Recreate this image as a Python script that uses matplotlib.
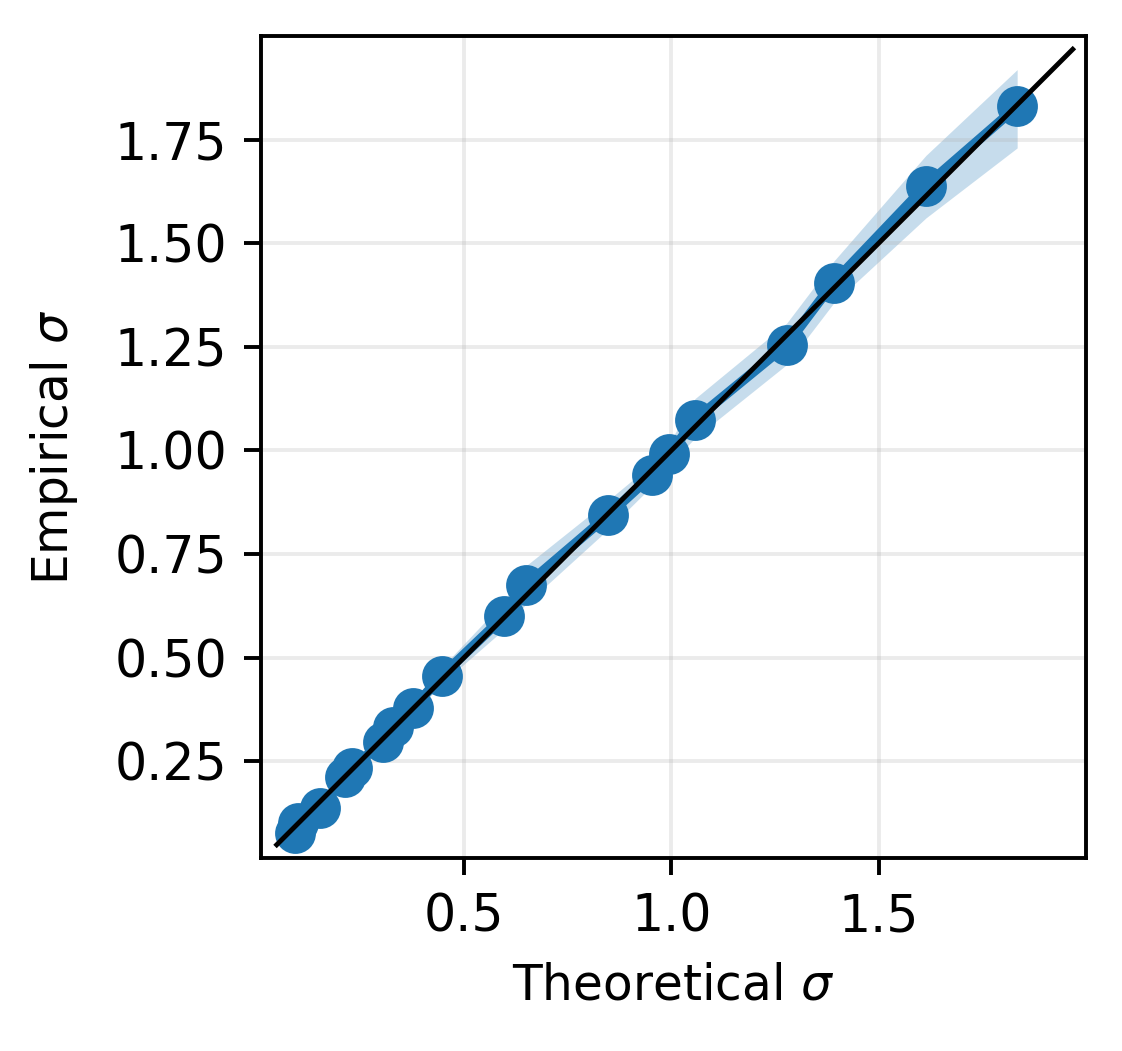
import numpy as np
import matplotlib
matplotlib.use("Agg")
import matplotlib.pyplot as plt

# values
theoretical = [0.092, 0.100, 0.152, 0.213, 0.230, 0.304, 0.329, 0.376, 0.446, 0.596,
               0.650, 0.848, 0.954, 0.995, 1.057, 1.278, 1.391, 1.614, 1.834]
empirical = [0.077, 0.100, 0.136, 0.212, 0.234, 0.296, 0.333, 0.377, 0.456, 0.599,
             0.675, 0.844, 0.941, 0.991, 1.074, 1.255, 1.405, 1.639, 1.830]
empirical_lo = [0.070, 0.092, 0.126, 0.200, 0.222, 0.283, 0.318, 0.360, 0.437, 0.568,
                0.630, 0.810, 0.915, 0.965, 1.030, 1.207, 1.355, 1.561, 1.730]
empirical_hi = [0.086, 0.109, 0.147, 0.225, 0.247, 0.310, 0.348, 0.394, 0.476, 0.635,
                0.722, 0.880, 0.968, 1.018, 1.125, 1.307, 1.456, 1.712, 1.919]
diagonal = [0.048, 1.968]

xticks = [0.5, 1.0, 1.5]
yticks = [0.25, 0.50, 0.75, 1.00, 1.25, 1.50, 1.75]


def main():
    dpi = 350
    fig = plt.figure(figsize=(1122 / dpi, 1051 / dpi), dpi=dpi)
    ax = fig.add_axes([0.2326, 0.1836, 0.7353, 0.7821])

    ax.fill_between(theoretical, empirical_lo, empirical_hi, color="C0", alpha=0.25, lw=0)
    ax.plot(theoretical, empirical, color="C0", lw=2, marker="o", markersize=7.4)
    ax.plot(diagonal, diagonal, color="black", lw=1.0)

    ax.set_xlim(0.01, 2.0)
    ax.set_ylim(0.016, 2.0)
    ax.set_xticks(xticks)
    ax.set_yticks(yticks)
    ax.tick_params(labelsize=10.4)
    ax.grid(True, alpha=0.25)

    ax.set_xlabel(r"Theoretical $\sigma$")
    ax.set_ylabel(r"Empirical $\sigma$", labelpad=7)

    fig.savefig("out.png", dpi=dpi)


if __name__ == "__main__":
    main()
